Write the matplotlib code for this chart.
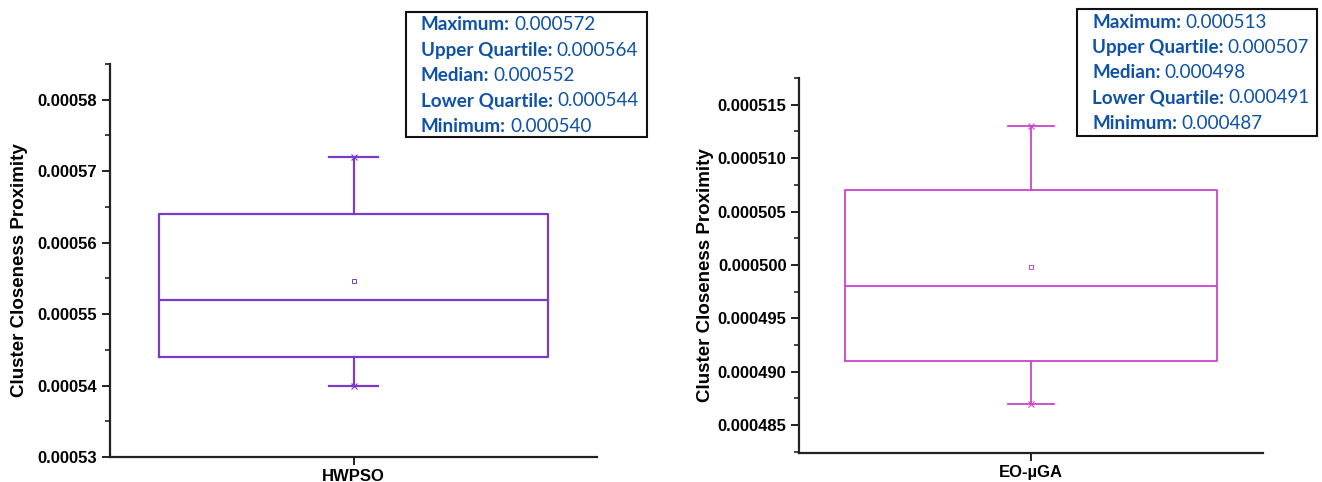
import matplotlib.pyplot as plt
from matplotlib.patches import Rectangle
from matplotlib.ticker import MultipleLocator, FormatStrFormatter

# Summary statistics for each algorithm
algorithms = ['HWPSO', 'EO-\u00b5GA']
maximum = [0.000572, 0.000513]
upper_quartile = [0.000564, 0.000507]
median = [0.000552, 0.000498]
lower_quartile = [0.000544, 0.000491]
minimum = [0.000540, 0.000487]
mean = [0.0005546, 0.0004998]

box_colors = ['#7a3cc6', '#cc44cc']
ylims = [(0.00053, 0.000585), (0.0004824, 0.0005175)]
major_steps = [0.00001, 0.000005]
tick_formats = ['%.5f', '%.6f']
axes_rects = [[0.0832, 0.0519, 0.3684, 0.8154], [0.6044, 0.0602, 0.351, 0.778]]
label_x = [0.0145, 0.5335]
info_boxes = [(406, 12, 241, 125), (1077, 9, 240, 127)]

W, H = 1322, 482
fig = plt.figure(figsize=(W / 100, H / 100), dpi=100)
plt.rcParams['font.family'] = 'Liberation Sans'

for i in range(2):
    ax = fig.add_axes(axes_rects[i])
    stats = [{
        'label': algorithms[i],
        'whislo': minimum[i], 'q1': lower_quartile[i], 'med': median[i],
        'q3': upper_quartile[i], 'whishi': maximum[i], 'mean': mean[i],
        'fliers': [],
    }]
    c = box_colors[i]
    lw = 1.6 if i == 0 else 1.3
    ax.bxp(stats, positions=[1], widths=0.8, capwidths=0.1, showmeans=True,
           boxprops=dict(color=c, linewidth=lw),
           medianprops=dict(color=c, linewidth=lw),
           whiskerprops=dict(color=c, linewidth=lw),
           capprops=dict(color=c, linewidth=lw),
           meanprops=dict(marker='s', markersize=3, markerfacecolor='none',
                          markeredgecolor=c, markeredgewidth=0.7))
    # small cross marks at the whisker ends
    ax.plot([1, 1], [minimum[i], maximum[i]], linestyle='none', marker='x',
            markersize=4, color=c, markeredgewidth=0.8)

    ax.set_xlim(0.5, 1.5)
    ax.set_ylim(*ylims[i])
    ax.yaxis.set_major_locator(MultipleLocator(major_steps[i]))
    ax.yaxis.set_minor_locator(MultipleLocator(major_steps[i] / 2))
    ax.yaxis.set_major_formatter(FormatStrFormatter(tick_formats[i]))
    for s in ['top', 'right']:
        ax.spines[s].set_visible(False)
    for s in ['left', 'bottom']:
        ax.spines[s].set_linewidth(1.6)
        ax.spines[s].set_color('#222222')
    ax.tick_params(axis='both', which='major', direction='out', length=6,
                   width=1.4, color='#222222', labelsize=12, pad=3)
    ax.tick_params(axis='y', which='minor', direction='out', length=3.5,
                   width=1.2, color='#222222')
    for t in ax.get_xticklabels() + ax.get_yticklabels():
        t.set_fontweight('bold')
    fig.text(label_x[i], axes_rects[i][1] + axes_rects[i][3] / 2 - 0.02,
             'Cluster Closeness Proximity', rotation=90, fontsize=13.5,
             fontweight='bold', ha='center', va='center')

# Statistic boxes above each panel
renderer = fig.canvas.get_renderer()
names = ['Maximum:', 'Upper Quartile:', 'Median:', 'Lower Quartile:', 'Minimum:']
blue = '#0f52a8'
for i in range(2):
    bx, by, bw, bh = info_boxes[i]
    fig.patches.append(Rectangle((bx / W, 1 - (by + bh) / H), bw / W, bh / H,
                                 transform=fig.transFigure, facecolor='white',
                                 edgecolor='#111111', linewidth=1.5))
    values = [maximum[i], upper_quartile[i], median[i], lower_quartile[i], minimum[i]]
    for j, (name, v) in enumerate(zip(names, values)):
        y = 1 - (by + 13 + 25.3 * j) / H
        x = (bx + 15) / W
        t = fig.text(x, y, name, fontsize=13.6, fontweight='bold', color=blue,
                     family='Lato', va='center', ha='left')
        ext = t.get_window_extent(renderer)
        fig.text(ext.x1 / W + 4 / W, y, f'{v:.6f}', fontsize=13.6, color=blue,
                 family='Lato', va='center', ha='left')

fig.savefig('out.png', dpi=100)
